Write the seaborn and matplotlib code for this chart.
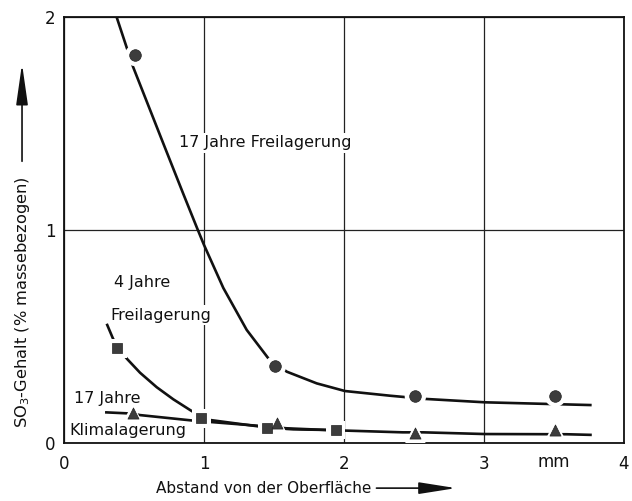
import pandas as pd
import seaborn as sns
import matplotlib.pyplot as plt

# Measured points: distance from surface (mm) vs. SO3 content (% by mass)
frei17_x = [0.51, 1.51, 2.51, 3.51]
frei17_y = [1.82, 0.36, 0.22, 0.22]
frei4_x = [0.38, 0.98, 1.45, 1.94]
frei4_y = [0.445, 0.116, 0.069, 0.061]
klima17_x = [0.49, 1.52, 2.51, 3.51]
klima17_y = [0.14, 0.092, 0.048, 0.061]

# Hand-drawn trend curves
frei17_curve_x = [0.376, 0.493, 0.709, 0.852, 0.95, 1.0, 1.138, 1.305, 1.459,
                  1.591, 1.805, 2.007, 2.329, 2.579, 3.007, 3.769]
frei17_curve_y = [2.0, 1.767, 1.407, 1.17, 1.01, 0.93, 0.728, 0.531, 0.398,
                  0.335, 0.280, 0.244, 0.222, 0.207, 0.191, 0.178]
frei4_curve_x = [0.305, 0.35, 0.40, 0.45, 0.543, 0.662, 0.781, 0.9, 0.983, 1.043,
                 1.4, 1.45, 1.638, 1.9, 1.94]
frei4_curve_y = [0.56, 0.49, 0.435, 0.395, 0.33, 0.262, 0.205, 0.155, 0.122, 0.108,
                 0.077, 0.072, 0.064, 0.061, 0.06]
klima17_curve_x = [0.293, 0.49, 0.543, 0.924, 1.4, 1.59, 1.876, 2.02, 2.42,
                   2.566, 3.007, 3.59, 3.77]
klima17_curve_y = [0.144, 0.138, 0.131, 0.105, 0.080, 0.069, 0.061, 0.058, 0.050,
                   0.050, 0.042, 0.041, 0.038]

x_ticks = [0, 1, 2, 3, 4]
y_ticks = [0, 1, 2]

sns.set_theme(style="white")
plt.rcParams['font.family'] = ['DejaVu Sans']

fig = plt.figure(figsize=(6.32, 5.01), dpi=100)
ax = fig.add_axes([0.1013, 0.1158, 0.886, 0.850])

curves = [
    (frei17_curve_x, frei17_curve_y, frei17_x, frei17_y, 'o', 70),
    (frei4_curve_x, frei4_curve_y, frei4_x, frei4_y, 's', 54),
    (klima17_curve_x, klima17_curve_y, klima17_x, klima17_y, '^', 64),
]

for cx, cy, px, py, marker, size in curves:
    line = pd.DataFrame({'x': cx, 'y': cy})
    sns.lineplot(data=line, x='x', y='y', sort=False, estimator=None,
                 color='#111111', linewidth=1.9, ax=ax, zorder=3)
    line_obj = ax.lines[-1]
    line_obj.set_solid_joinstyle('round')
    line_obj.set_solid_capstyle('butt')
    pts = pd.DataFrame({'x': px, 'y': py})
    # white halo to break the line around each marker
    sns.scatterplot(data=pts, x='x', y='y', marker=marker, s=size * 3.4,
                    color='white', edgecolor='none', ax=ax, zorder=4)
    sns.scatterplot(data=pts, x='x', y='y', marker=marker, s=size,
                    color='#3c3c3c', edgecolor='#222222', linewidth=0.5,
                    ax=ax, zorder=5)

ax.set_xlim(0, 4)
ax.set_ylim(0, 2)
ax.set_xticks(x_ticks)
ax.set_yticks(y_ticks)
ax.grid(True, color='#222222', linewidth=0.9)
ax.set_axisbelow(True)
for s in ax.spines.values():
    s.set_color('#111111')
    s.set_linewidth(1.3)
ax.tick_params(length=0, labelsize=12, colors='#111111')
ax.tick_params(axis='x', pad=9)
ax.tick_params(axis='y', pad=6)
ax.text(3.5, -0.045, 'mm', ha='center', va='top', fontsize=12, color='#111111')

ax.set_xlabel('')
ax.set_ylabel('')
ax.text(0.357, -0.106, 'Abstand von der Oberfläche', transform=ax.transAxes,
        ha='center', va='center', fontsize=11, color='#111111')
ax.text(-0.075, 0.33, 'SO$_3$-Gehalt (% massebezogen)', transform=ax.transAxes,
        rotation=90, ha='center', va='center', fontsize=11.7, color='#111111')

ax.annotate('', xy=(0.705, -0.106), xytext=(0.553, -0.106),
            xycoords='axes fraction', annotation_clip=False,
            arrowprops=dict(arrowstyle='-|>,head_length=1.9,head_width=0.3',
                            color='#111111', lw=1.2))
ax.annotate('', xy=(-0.075, 0.897), xytext=(-0.075, 0.655),
            xycoords='axes fraction', annotation_clip=False,
            arrowprops=dict(arrowstyle='-|>,head_length=2.1,head_width=0.3',
                            color='#111111', lw=1.2))

box = dict(facecolor='white', edgecolor='none', pad=2)
labels = [
    (0.82, 1.41, '17 Jahre Freilagerung'),
    (0.36, 0.756, '4 Jahre'),
    (0.33, 0.60, 'Freilagerung'),
    (0.07, 0.21, '17 Jahre'),
    (0.04, 0.058, 'Klimalagerung'),
]
for tx, ty, t in labels:
    ax.text(tx, ty, t, ha='left', va='center', fontsize=11.5,
            color='#111111', bbox=box, zorder=2)

fig.savefig('out.png', dpi=100)
